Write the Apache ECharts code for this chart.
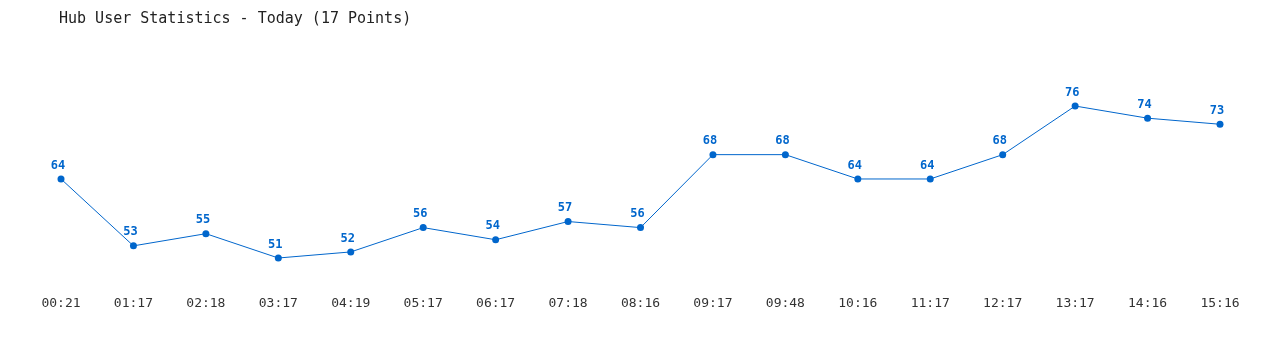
<!DOCTYPE html>
<html><head><meta charset="utf-8">
<script src="https://cdn.jsdelivr.net/npm/echarts@6/dist/echarts.min.js"></script>
<style>html,body{margin:0;padding:0;background:#fff}#c{width:1280px;height:350px}</style>
</head><body><div id="c"></div>
<script>
const categories = ["00:21","01:17","02:18","03:17","04:19","05:17","06:17","07:18","08:16","09:17","09:48","10:16","11:17","12:17","13:17","14:16","15:16"];
const users = [64,53,55,51,52,56,54,57,56,68,68,64,64,68,76,74,73];
const titleText = "Hub User Statistics - Today (17 Points)";
const font = "'DejaVu Sans Mono', monospace";
const chart = echarts.init(document.getElementById('c'), null, {renderer:'canvas'});
chart.setOption({
  animation:false,
  title:{text:titleText,left:54,top:7,textStyle:{fontFamily:font,fontSize:15,fontWeight:'normal',color:'#222'}},
  grid:{left:61,right:60,top:81.7,height:206.7},
  xAxis:{type:'category',data:categories,boundaryGap:false,
    axisLine:{show:false},axisTick:{show:false},splitLine:{show:false},
    axisLabel:{fontFamily:font,fontSize:13,color:'#333',margin:9}},
  yAxis:{type:'value',min:46,max:80,show:false,splitLine:{show:false}},
  series:[{type:'line',data:users,symbol:'circle',symbolSize:7,
    lineStyle:{color:'#0066cc',width:1},itemStyle:{color:'#0066cc'},
    label:{show:true,position:'top',distance:4,offset:[-3,0],fontFamily:font,fontSize:12,fontWeight:'bold',color:'#0066cc'}}]
});
</script></body></html>
